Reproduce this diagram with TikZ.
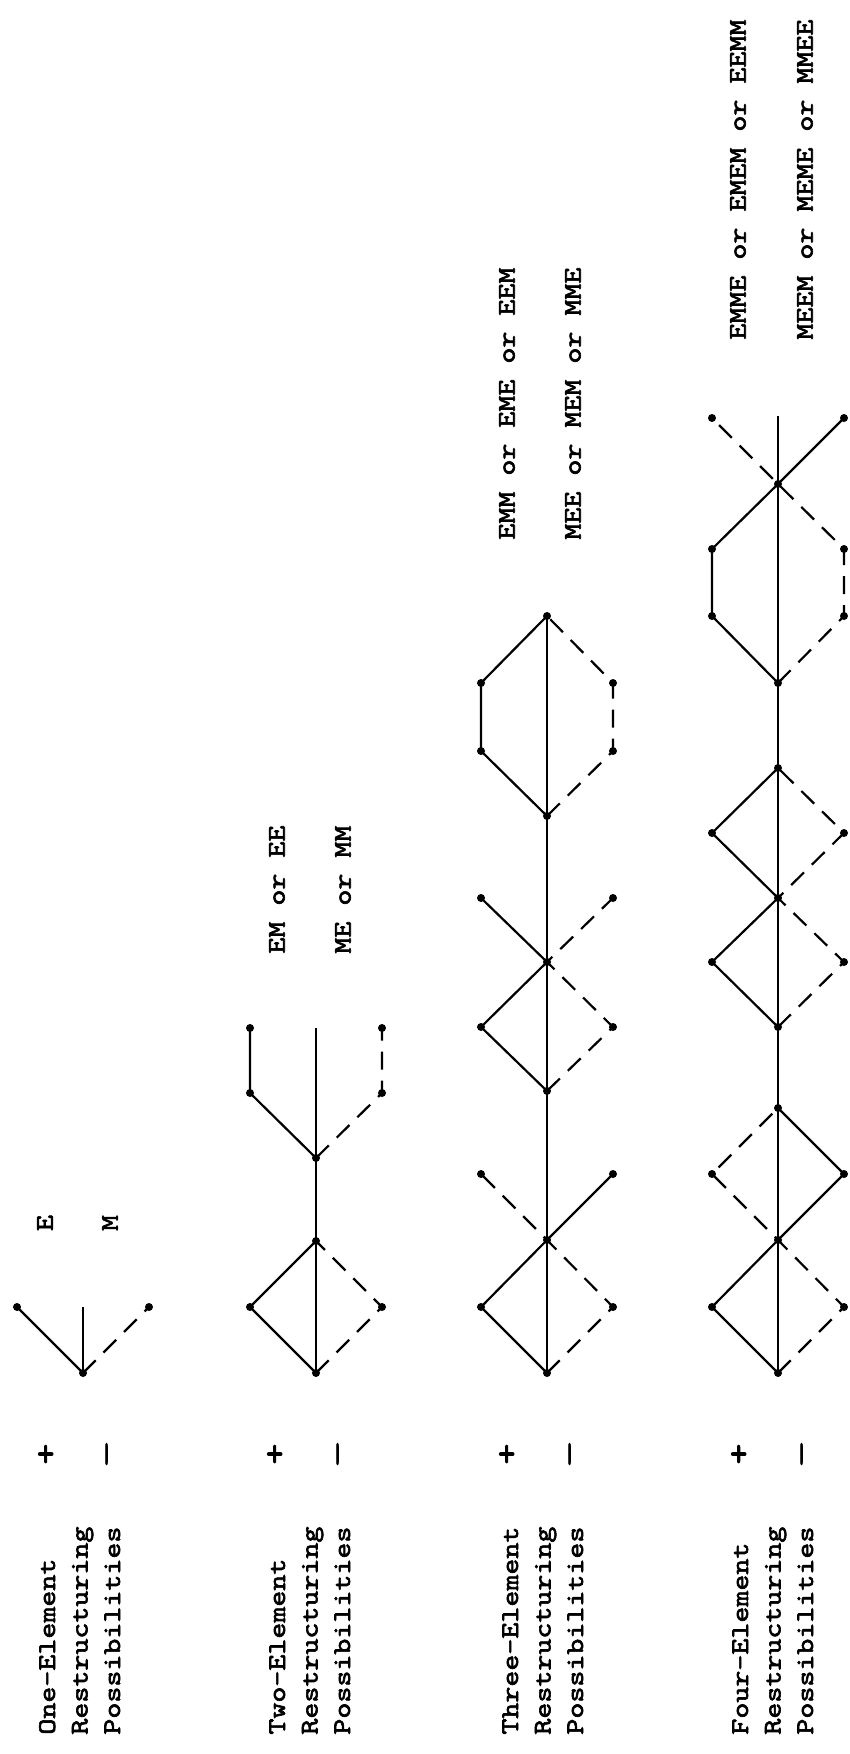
\documentclass[tikz,border=0pt]{standalone}
\usepackage{fontspec}
\newfontfamily\typewriter[FakeStretch=1.2,FakeBold=2.5]{lmmono10-regular.otf}
\begin{document}
\begin{tikzpicture}[x=0.5pt,y=-0.5pt,
  vtx/.style={circle,fill=black,inner sep=0pt,minimum size=4pt},
  solidarm/.style={line width=1.1pt},
  dasharm/.style={line width=1.1pt,dash pattern=on 9pt off 5.5pt},
  spine/.style={line width=0.7pt},
  txt/.style={font=\typewriter\fontsize{12.7}{16}\selectfont,rotate=90,inner sep=0pt},
  plus/.style={txt,scale=1.3},
  minus/.style={txt,xscale=1.7},
  title/.style={txt,anchor=base west},
  combo/.style={txt,anchor=west}]
\useasboundingbox (0,0) rectangle (850,1754);

% ---------- one element ----------
\node[vtx] (g1b) at (83,1373) {};
\node[vtx] (g1l) at (17,1307) {};
\node[vtx] (g1r) at (149,1307) {};
\coordinate (g1top) at (83,1307);
\draw[spine] (g1b.center) -- (g1top);
\draw[solidarm] (g1b.center) -- (g1l.center);
\draw[dasharm] (g1b.center) -- (g1r.center);

\node[title] (g1n1) at (55,1735) {One-Element};
\node[title] (g1n2) at (87.5,1735) {Restructuring};
\node[title] (g1n3) at (120,1735) {Possibilities};
\node[plus] (g1plus) at (47,1454) {+};
\node[minus] (g1minus) at (110,1454) {-};
\node[txt] (g1e) at (45,1223) {E};
\node[txt] (g1m) at (110,1223) {M};

% ---------- two elements ----------
\node[vtx] (g2b)  at (316,1373) {};
\node[vtx] (g2l1) at (250,1307) {};
\node[vtx] (g2r1) at (382,1307) {};
\node[vtx] (g2t)  at (316,1241) {};
\node[vtx] (g2v)  at (316,1158) {};
\node[vtx] (g2l2) at (250,1093) {};
\node[vtx] (g2r2) at (382,1093) {};
\node[vtx] (g2l3) at (250,1028) {};
\node[vtx] (g2r3) at (382,1028) {};
\coordinate (g2top) at (316,1028);
\draw[spine] (g2b.center) -- (g2top);
\draw[solidarm] (g2b.center) -- (g2l1.center) -- (g2t.center);
\draw[dasharm]  (g2b.center) -- (g2r1.center) -- (g2t.center);
\draw[solidarm] (g2v.center) -- (g2l2.center) -- (g2l3.center);
\draw[dasharm]  (g2v.center) -- (g2r2.center) -- (g2r3.center);

\node[title] (g2n1) at (285,1735) {Two-Element};
\node[title] (g2n2) at (317.5,1735) {Restructuring};
\node[title] (g2n3) at (350,1735) {Possibilities};
\node[plus] (g2plus) at (276,1454) {+};
\node[minus] (g2minus) at (341,1454) {-};
\node[combo] (g2e) at (277,954) {EM or EE};
\node[combo] (g2m) at (343,954) {ME or MM};

% ---------- three elements ----------
\node[vtx] (g3b)  at (547,1373) {};
\node[vtx] (g3l1) at (481,1307) {};
\node[vtx] (g3r1) at (613,1307) {};
\node[vtx] (g3c1) at (547,1240) {};
\node[vtx] (g3l2) at (481,1174) {};
\node[vtx] (g3r2) at (613,1174) {};
\node[vtx] (g3b2) at (547,1091) {};
\node[vtx] (g3l3) at (481,1027) {};
\node[vtx] (g3r3) at (613,1027) {};
\node[vtx] (g3c2) at (547,962) {};
\node[vtx] (g3l4) at (481,898) {};
\node[vtx] (g3r4) at (613,898) {};
\node[vtx] (g3b3) at (547,816) {};
\node[vtx] (g3l5) at (481,751) {};
\node[vtx] (g3r5) at (613,751) {};
\node[vtx] (g3l6) at (481,683) {};
\node[vtx] (g3r6) at (613,683) {};
\node[vtx] (g3t)  at (547,616) {};
\draw[spine] (g3b.center) -- (g3t.center);
\draw[solidarm] (g3b.center) -- (g3l1.center) -- (g3c1.center) -- (g3r2.center);
\draw[dasharm]  (g3b.center) -- (g3r1.center) -- (g3c1.center) -- (g3l2.center);
\draw[solidarm] (g3b2.center) -- (g3l3.center) -- (g3c2.center) -- (g3l4.center);
\draw[dasharm]  (g3b2.center) -- (g3r3.center) -- (g3c2.center) -- (g3r4.center);
\draw[solidarm] (g3b3.center) -- (g3l5.center) -- (g3l6.center) -- (g3t.center);
\draw[dasharm]  (g3b3.center) -- (g3r5.center) -- (g3r6.center) -- (g3t.center);

\node[title] (g3n1) at (518,1735) {Three-Element};
\node[title] (g3n2) at (550.5,1735) {Restructuring};
\node[title] (g3n3) at (583,1735) {Possibilities};
\node[plus] (g3plus) at (508,1454) {+};
\node[minus] (g3minus) at (573,1454) {-};
\node[combo] (g3e) at (507,540) {EMM or EME or EEM};
\node[combo] (g3m) at (573,540) {MEE or MEM or MME};

% ---------- four elements ----------
\node[vtx] (g4b)  at (778,1373) {};
\node[vtx] (g4l1) at (712,1307) {};
\node[vtx] (g4r1) at (844,1307) {};
\node[vtx] (g4c1) at (778,1240) {};
\node[vtx] (g4l2) at (712,1174) {};
\node[vtx] (g4r2) at (844,1174) {};
\node[vtx] (g4t1) at (778,1108) {};
\node[vtx] (g4b2) at (778,1027) {};
\node[vtx] (g4l3) at (712,962) {};
\node[vtx] (g4r3) at (844,962) {};
\node[vtx] (g4c2) at (778,898) {};
\node[vtx] (g4l4) at (712,833) {};
\node[vtx] (g4r4) at (844,833) {};
\node[vtx] (g4t2) at (778,768) {};
\node[vtx] (g4b3) at (778,683) {};
\node[vtx] (g4l5) at (712,616) {};
\node[vtx] (g4r5) at (844,616) {};
\node[vtx] (g4l6) at (712,549) {};
\node[vtx] (g4r6) at (844,549) {};
\node[vtx] (g4c3) at (778,484) {};
\node[vtx] (g4l7) at (712,418) {};
\node[vtx] (g4r7) at (844,418) {};
\coordinate (g4top) at (778,416);
\draw[spine] (g4b.center) -- (g4top);
\draw[solidarm] (g4b.center) -- (g4l1.center) -- (g4c1.center) -- (g4r2.center) -- (g4t1.center);
\draw[dasharm]  (g4b.center) -- (g4r1.center) -- (g4c1.center) -- (g4l2.center) -- (g4t1.center);
\draw[solidarm] (g4b2.center) -- (g4l3.center) -- (g4c2.center) -- (g4l4.center) -- (g4t2.center);
\draw[dasharm]  (g4b2.center) -- (g4r3.center) -- (g4c2.center) -- (g4r4.center) -- (g4t2.center);
\draw[solidarm] (g4b3.center) -- (g4l5.center) -- (g4l6.center) -- (g4c3.center) -- (g4r7.center);
\draw[dasharm]  (g4b3.center) -- (g4r5.center) -- (g4r6.center) -- (g4c3.center) -- (g4l7.center);

\node[title] (g4n1) at (748,1735) {Four-Element};
\node[title] (g4n2) at (780.5,1735) {Restructuring};
\node[title] (g4n3) at (813,1735) {Possibilities};
\node[plus] (g4plus) at (740,1454) {+};
\node[minus] (g4minus) at (805,1454) {-};
\node[combo] (g4e) at (738,340) {EMME or EMEM or EEMM};
\node[combo] (g4m) at (805,340) {MEEM or MEME or MMEE};
\end{tikzpicture}
\end{document}
